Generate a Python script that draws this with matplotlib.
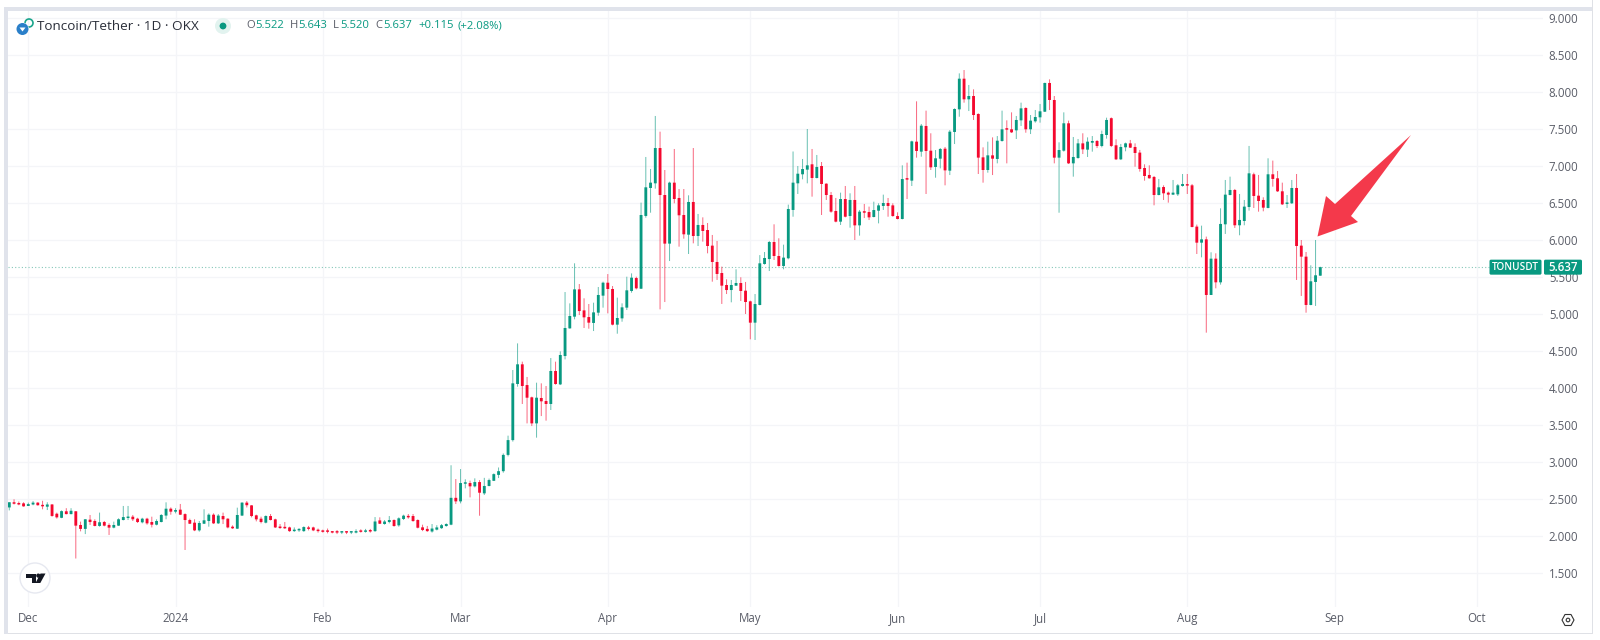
import pandas as pd
import matplotlib
matplotlib.use("Agg")
import matplotlib.pyplot as plt
import matplotlib.dates as mdates
from matplotlib.patches import Polygon, Circle, Rectangle, FancyBboxPatch

plt.rcParams['font.family'] = ['Open Sans', 'DejaVu Sans']

start_date = "2023-11-27"
opens = [
 2.39,2.46,2.45,2.445,2.41,2.43,2.455,2.425,2.40,2.43,
 2.305,2.25,2.338,2.30,2.338,2.153,2.10,2.225,2.207,2.14,
 2.193,2.153,2.117,2.144,2.22,2.247,2.265,2.238,2.189,2.238,
 2.193,2.157,2.193,2.28,2.373,2.333,2.36,2.30,2.22,2.184,
 2.08,2.17,2.207,2.292,2.175,2.274,2.238,2.13,2.103,2.28,
 2.455,
 2.418,2.283,2.238,2.184,2.274,2.229,2.13,2.12,2.12,2.07,
 2.08,2.07,2.12,2.12,2.09,2.08,2.08,2.06,2.06,2.05,
 2.06,2.05,2.05,2.07,2.06,2.08,2.07,2.215,2.166,2.193,
 2.22,2.148,2.234,2.265,2.274,2.22,2.121,2.10,2.065,2.09,
 2.11,2.139,2.157,2.52,2.472,2.71,2.72,2.675,2.733,2.58,
 2.68,2.75,2.83,2.88,3.10,3.30,4.058,4.324,4.044,3.878,
 3.526,3.869,3.828,3.788,4.234,4.053,4.436,4.81,4.968,5.337,
 5.053,4.963,4.883,5.022,5.252,5.427,5.342,4.86,4.945,5.09,
 5.315,5.49,5.346,6.329,6.707,6.77,7.247,6.612,5.955,6.779,
 6.572,6.342,6.076,6.518,6.058,6.207,6.139,5.928,5.707,5.558,
 5.396,5.328,5.387,5.423,5.319,5.175,4.887,5.126,5.68,5.747,
 5.977,5.788,5.653,5.757,6.41,6.77,6.892,6.955,7.027,6.842,
 7.004,6.765,6.612,6.396,6.252,6.558,6.328,6.545,6.202,6.378,
 6.382,6.315,6.4,6.464,6.504,6.472,6.328,6.288,6.828,6.806,
 7.333,7.198,7.545,7.211,6.991,7.103,7.238,6.941,7.464,7.77,
 8.184,7.905,7.95,7.707,7.121,6.95,7.148,7.099,7.342,7.504,
 7.5,7.486,7.621,7.788,7.5,7.608,7.662,7.738,8.126,7.896,
 7.117,7.211,7.581,7.04,7.112,7.31,7.225,7.319,7.342,7.274,
 7.423,7.65,7.284,7.094,7.257,7.31,7.261,7.185,6.977,6.883,
 6.856,6.612,6.72,6.644,6.617,6.621,6.734,6.752,6.743,6.185,
 5.968,6.013,5.261,5.752,5.432,6.216,6.612,6.68,6.203,6.261,
 6.45,6.892,6.603,6.545,6.437,6.892,6.838,6.662,6.491,6.5,
 6.707,5.928,5.779,5.126,5.437,5.522,
]
highs = [
 2.46,2.50,2.47,2.46,2.455,2.475,2.46,2.48,2.46,2.435,
 2.32,2.35,2.38,2.38,2.338,2.198,2.23,2.288,2.23,2.32,
 2.207,2.175,2.198,2.243,2.41,2.41,2.288,2.25,2.25,2.25,
 2.265,2.23,2.30,2.459,2.39,2.38,2.437,2.31,2.238,2.23,
 2.207,2.365,2.31,2.31,2.30,2.32,2.243,2.148,2.387,2.459,
 2.477,
 2.42,2.292,2.265,2.283,2.301,2.238,2.166,2.193,2.13,2.12,
 2.11,2.135,2.14,2.13,2.105,2.09,2.105,2.07,2.085,2.07,
 2.07,2.07,2.095,2.095,2.10,2.10,2.26,2.256,2.22,2.274,
 2.229,2.256,2.292,2.301,2.301,2.229,2.157,2.14,2.166,2.15,
 2.166,2.175,2.96,2.774,2.909,2.77,2.752,2.783,2.76,2.79,
 2.78,2.85,2.93,3.12,3.36,4.247,4.607,4.36,4.153,3.887,
 4.076,4.067,4.031,4.409,4.36,4.499,5.301,5.148,5.689,5.409,
 5.216,5.139,5.157,5.369,5.441,5.544,5.382,5.225,5.148,5.508,
 5.553,5.508,6.509,7.126,6.964,7.68,7.468,6.95,6.792,7.234,
 6.693,6.693,6.608,7.247,6.356,6.31,6.234,6.072,5.991,5.644,
 5.473,5.464,5.608,5.5,5.437,5.184,5.274,5.8,5.842,5.991,
 6.216,6.027,5.941,6.482,7.2,7.004,7.099,7.504,7.234,7.153,
 7.058,6.77,6.653,6.572,6.644,6.734,6.635,6.734,6.41,6.491,
 6.455,6.522,6.5,6.617,6.572,6.5,6.378,7.013,7.049,7.346,
 7.878,7.572,7.752,7.446,7.22,7.247,7.261,7.49,7.783,8.256,
 8.301,8.099,8.04,7.716,7.256,7.333,7.391,7.409,7.752,7.621,
 7.729,7.68,7.86,7.797,7.693,7.761,7.842,8.13,8.175,7.95,
 7.324,7.729,7.617,7.396,7.369,7.446,7.391,7.409,7.355,7.482,
 7.657,7.66,7.365,7.302,7.32,7.356,7.31,7.221,7.027,7.013,
 6.869,6.829,6.743,6.658,6.815,6.761,6.896,6.896,6.761,6.212,
 6.198,6.05,5.838,5.824,6.432,6.815,6.86,6.694,6.626,6.545,
 7.275,6.914,6.883,6.581,7.108,7.077,6.937,6.779,6.612,6.815,
 6.896,6.004,5.842,5.662,6.004,5.643,
]
lows = [
 2.35,2.43,2.42,2.40,2.41,2.42,2.415,2.365,2.355,2.265,
 2.24,2.245,2.297,2.297,1.70,2.067,2.03,2.153,2.135,2.13,
 2.135,2.018,2.108,2.14,2.215,2.22,2.207,2.18,2.175,2.157,
 2.12,2.148,2.189,2.23,2.292,2.31,2.288,1.815,2.166,2.07,
 2.063,2.166,2.13,2.166,2.166,2.166,2.108,2.10,2.10,2.274,
 2.39,
 2.256,2.202,2.175,2.175,2.215,2.112,2.10,2.10,2.06,2.06,
 2.06,2.06,2.08,2.07,2.05,2.05,2.04,2.04,2.03,2.03,
 2.03,2.03,2.04,2.05,2.05,2.05,2.06,2.166,2.157,2.175,
 2.13,2.13,2.22,2.238,2.197,2.107,2.07,2.06,2.05,2.08,
 2.10,2.13,2.15,2.436,2.445,2.648,2.526,2.661,2.278,2.558,
 2.675,2.747,2.787,2.86,3.08,3.28,4.022,3.788,3.526,3.49,
 3.333,3.625,3.563,3.707,4.049,4.044,4.391,4.806,4.932,4.99,
 4.815,4.806,4.774,4.981,5.09,5.013,4.851,4.738,4.9,5.058,
 5.292,5.337,5.342,6.306,6.373,6.698,5.067,5.166,5.72,6.5,
 5.914,6.022,5.815,5.959,5.923,5.982,5.824,5.441,5.464,5.14,
 5.274,5.162,5.383,5.18,5.004,4.662,4.653,5.121,5.671,5.585,
 5.734,5.644,5.608,5.743,6.319,6.626,6.824,6.77,6.59,6.837,
 6.342,6.545,6.373,6.243,6.207,6.31,6.171,6.004,6.063,6.301,
 6.274,6.31,6.229,6.41,6.319,6.319,6.283,6.283,6.558,6.734,
 7.117,7.13,6.626,6.95,6.846,6.972,6.743,6.882,7.301,7.67,
 7.86,7.747,7.626,6.896,6.779,6.914,6.882,7.04,7.333,7.04,
 7.45,7.369,7.545,7.454,7.436,7.59,7.59,7.734,7.76,7.04,
 6.373,7.198,7.031,6.86,7.103,7.166,7.126,7.198,7.247,7.256,
 7.374,7.26,7.085,7.085,7.203,7.248,6.995,6.928,6.806,6.833,
 6.473,6.608,6.545,6.509,6.612,6.599,6.725,6.626,6.175,5.815,
 5.77,4.752,5.261,5.351,5.401,6.086,6.608,6.167,6.068,6.203,
 6.401,6.437,6.387,6.392,6.432,6.725,6.653,6.477,6.437,6.491,
 5.464,5.248,5.022,5.122,5.113,5.52,
]
closes = [
 2.46,2.44,2.43,2.405,2.435,2.455,2.42,2.405,2.43,2.275,
 2.256,2.34,2.30,2.345,2.144,2.10,2.23,2.193,2.14,2.19,
 2.144,2.117,2.153,2.23,2.26,2.265,2.23,2.193,2.238,2.175,
 2.157,2.207,2.288,2.373,2.333,2.355,2.292,2.22,2.17,2.08,
 2.18,2.216,2.292,2.175,2.28,2.23,2.12,2.108,2.288,2.455,
 2.42,
 2.274,2.229,2.193,2.274,2.22,2.12,2.112,2.108,2.07,2.09,
 2.10,2.125,2.10,2.08,2.07,2.06,2.06,2.05,2.05,2.06,
 2.05,2.06,2.07,2.06,2.075,2.065,2.20,2.17,2.20,2.22,
 2.139,2.243,2.279,2.256,2.206,2.116,2.085,2.07,2.105,2.12,
 2.15,2.166,2.52,2.472,2.72,2.715,2.675,2.733,2.589,2.68,
 2.76,2.84,2.88,3.10,3.30,4.067,4.324,4.031,3.873,3.526,
 3.873,3.824,3.788,4.234,4.058,4.45,4.815,4.977,5.337,5.044,
 4.959,4.887,5.026,5.261,5.427,5.342,4.86,4.95,5.094,5.324,
 5.495,5.351,6.342,6.716,6.779,7.247,6.612,5.955,6.779,6.558,
 6.338,6.081,6.518,6.058,6.207,6.126,5.923,5.707,5.545,5.387,
 5.328,5.396,5.423,5.315,5.166,4.887,5.139,5.689,5.761,5.977,
 5.788,5.653,5.766,6.423,6.779,6.9,6.963,7.013,6.842,6.991,
 6.761,6.612,6.387,6.252,6.558,6.319,6.545,6.202,6.387,6.373,
 6.31,6.409,6.472,6.504,6.464,6.328,6.288,6.828,6.82,7.337,
 7.207,7.549,7.207,6.986,7.108,7.234,6.945,7.468,7.774,8.184,
 7.905,7.95,7.693,7.117,6.95,7.148,7.103,7.346,7.5,7.495,
 7.459,7.626,7.783,7.5,7.617,7.666,7.743,8.126,7.896,7.117,
 7.22,7.581,7.04,7.126,7.31,7.229,7.333,7.342,7.274,7.436,
 7.626,7.275,7.094,7.261,7.31,7.252,7.18,6.964,6.869,6.838,
 6.612,6.716,6.635,6.617,6.644,6.743,6.761,6.739,6.18,5.968,
 6.013,5.261,5.752,5.432,6.221,6.617,6.68,6.203,6.275,6.455,
 6.905,6.599,6.531,6.441,6.892,6.829,6.662,6.486,6.504,6.707,
 5.923,5.779,5.126,5.446,5.527,5.637,
]
price_ticks = [1.5,2.0,2.5,3.0,3.5,4.0,4.5,5.0,5.5,6.0,6.5,7.0,7.5,8.0,8.5,9.0]
month_starts = ["2023-12-01","2024-01-01","2024-02-01","2024-03-01","2024-04-01","2024-05-01",
                "2024-06-01","2024-07-01","2024-08-01","2024-09-01","2024-10-01"]
month_labels = ["Dec","2024","Feb","Mar","Apr","May","Jun","Jul","Aug","Sep","Oct"]
title = "Toncoin/Tether · 1D · OKX"
ohlc_labels = ["O","H","L","C"]
ohlc_values = ["5.522","5.643","5.520","5.637"]
change_text = "+0.115"
change_pct = "(+2.08%)"
symbol = "TONUSDT"

GREEN, RED, GRID, BORDER, TEXT = "#089981", "#f4082e", "#f4f5f8", "#e0e3eb", "#5a5d68"
W, H = 1600, 640

fig = plt.figure(figsize=(W/100, H/100), dpi=100, facecolor="white")
L, R, T, B = 8, 1543, 11, 607
ax = fig.add_axes([L/W, 1-B/H, (R-L)/W, (B-T)/H], zorder=2)
ax.patch.set_alpha(0)

dates = pd.date_range(start_date, periods=len(closes), freq="D")
dn = mdates.date2num(dates)
d0 = mdates.date2num(pd.Timestamp("2023-12-01"))
PX_DAY, PX_D0 = 4.75, 28.3
ax.set_xlim(d0 + (L-PX_D0)/PX_DAY, d0 + (R-PX_D0)/PX_DAY)
PX_UNIT, PX_9 = 74.0, 18.3
ax.set_ylim(9 - (B-PX_9)/PX_UNIT, 9 - (T-PX_9)/PX_UNIT)

colors = [GREEN if c >= o else RED for o, c in zip(opens, closes)]
wicks = ax.vlines(dn, lows, highs, colors=colors, linewidth=0.72, alpha=0.6, zorder=3)
wicks.set_snap(False)
bottoms = [min(o, c) for o, c in zip(opens, closes)]
heights = [max(abs(c-o), 0.02) for o, c in zip(opens, closes)]
bars = ax.bar(dn, heights, bottom=bottoms, width=0.6, color=colors, linewidth=0, zorder=4)
for b in bars:
    b.set_snap(False)

ax.axhline(closes[-1], color="#86c8ba", linewidth=0.8, dashes=(1, 2), zorder=2,
           xmax=(1489-L)/(R-L))

ax.set_yticks(price_ticks)
ax.set_yticklabels([f"{p:.3f}" for p in price_ticks])
ax.yaxis.tick_right()
ax.set_xticks(mdates.date2num(pd.to_datetime(month_starts)))
ax.set_xticklabels(month_labels)
ax.tick_params(axis="both", length=0, labelsize=8.3, labelcolor=TEXT)
ax.tick_params(axis="y", pad=4.2)
ax.tick_params(axis="x", pad=3.6)
ax.grid(True, color=GRID, linewidth=0.9, zorder=0)
ax.set_axisbelow(True)
for s in ax.spines.values():
    s.set_visible(False)

# screen furniture in pixel coordinates
ov = fig.add_axes([0, 0, 1, 1], zorder=3)
ov.set_xlim(0, W); ov.set_ylim(H, 0); ov.axis("off"); ov.patch.set_alpha(0)
ov.add_patch(Rectangle((4, 7), 1588, 4, color=BORDER, lw=0))
ov.add_patch(Rectangle((4, 7), 4, 627, color=BORDER, lw=0))
ov.add_patch(Rectangle((1592, 0), 1, 634, color="#dfe1e6", lw=0))
ov.add_patch(Rectangle((8, 633), 1585, 1, color="#dfe1e6", lw=0))

# symbol icon
ov.add_patch(Circle((29, 23), 4, fill=False, ec="#1aa58c", lw=1.2))
ov.add_patch(Circle((22.5, 29), 6.5, color="white", lw=0))
ov.add_patch(Circle((22.5, 29), 6, color="#2a7fc9", lw=0))
ov.add_patch(Polygon([(19.5,27.5),(25.5,27.5),(22.5,31.5)], color="white", lw=0))
ov.text(37, 26, title, fontsize=9.7, color="#2a2e39", va="center", ha="left")
ov.add_patch(Circle((223, 26), 8, color="#e2f3ef", lw=0))
ov.add_patch(Circle((223, 26), 3.4, color=GREEN, lw=0))
for lab, xl, val, xv in zip(ohlc_labels, [246, 290, 333, 375], ohlc_values, [255, 298, 340, 383]):
    ov.text(xl, 26, lab, fontsize=8.1, color=TEXT, va="center", ha="left")
    ov.text(xv, 26, val, fontsize=8.1, color=GREEN, va="center", ha="left")
ov.text(418, 26, change_text, fontsize=8.1, color=GREEN, va="center", ha="left")
ov.text(458, 26, change_pct, fontsize=8.1, color=GREEN, va="center", ha="left")

# last price tag
ty = PX_9 + (9 - closes[-1]) * PX_UNIT
ov.add_patch(FancyBboxPatch((1489.5, ty-7.5), 52, 15, boxstyle="round,pad=0,rounding_size=1.5", color=GREEN, lw=0))
ov.add_patch(FancyBboxPatch((1544, ty-7.5), 38, 15, boxstyle="round,pad=0,rounding_size=1.5", color=GREEN, lw=0))
ov.text(1515.5, ty, symbol, fontsize=7.2, fontweight="semibold", color="white", va="center", ha="center")
ov.text(1563, ty, f"{closes[-1]:.3f}", fontsize=8.3, fontweight="semibold", color="white", va="center", ha="center")

# annotation arrow
ov.add_patch(Polygon([(1317.5,236.5),(1326,196),(1335,204),(1411,135),(1351,216),(1358,222)],
                     color="#f4394b", lw=0))

# chart logo
ov.add_patch(Circle((35, 578), 15, fc="white", ec="#e6e8f0", lw=1))
ov.add_patch(Polygon([(26,573.5),(36,573.5),(36,583),(31.5,583),(31.5,578),(26,578)], color="#131722", lw=0))
ov.add_patch(Circle((38.3, 575.6), 2.1, color="#131722", lw=0))
ov.add_patch(Polygon([(40.5,573.5),(45.5,573.5),(40.3,583),(35.5,583)], color="#131722", lw=0))

# settings gear
ov.add_patch(Polygon([(1562,620),(1565,614.5),(1571,614.5),(1574,620),(1571,625.5),(1565,625.5)],
                     fc="white", ec="#333", lw=0.8))
ov.add_patch(Circle((1568, 620), 1.8, fc="white", ec="#333", lw=0.8))

fig.savefig("out.png", dpi=100, facecolor="white")
